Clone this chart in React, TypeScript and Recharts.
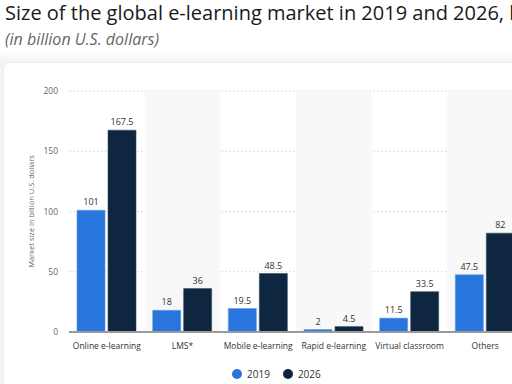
import React from "react";
import {
  BarChart,
  Bar,
  XAxis,
  YAxis,
  CartesianGrid,
  LabelList,
  ReferenceArea,
} from "recharts";

const categories = [
  "Online e-learning",
  "LMS*",
  "Mobile e-learning",
  "Rapid e-learning",
  "Virtual classroom",
  "Others",
];
const values2019 = [101, 18, 19.5, 2, 11.5, 47.5];
const values2026 = [167.5, 36, 48.5, 4.5, 33.5, 82];
const yTicks = [0, 50, 100, 150, 200];
const shadedCategories = ["LMS*", "Rapid e-learning", "Others"];

const data = categories.map((c, i) => ({
  name: c,
  y2019: values2019[i],
  y2026: values2026[i],
}));

const FONT = "'Open Sans', 'Noto Sans', sans-serif";
const BLUE = "#2876dd";
const NAVY = "#0f2640";

const YLabel = (props: any) => {
  const vb = props.viewBox || { x: 0, y: 0, width: 0, height: 0 };
  const x = 34;
  const y = vb.y + vb.height / 2;
  return (
    <text
      x={x}
      y={y}
      transform={`rotate(-90, ${x}, ${y})`}
      textAnchor="middle"
      fontSize={7.5}
      fill="#666"
      fontFamily={FONT}
    >
      Market size in billion U.S. dollars
    </text>
  );
};

export default function App() {
  return (
    <div
      style={{
        position: "fixed",
        left: 0,
        top: 0,
        width: 512,
        height: 384,
        overflow: "hidden",
        background:
          "linear-gradient(to bottom, #ffffff 0px, #ffffff 50px, #f3f4f7 62px, #f3f4f7 384px)",
        fontFamily: FONT,
      }}
    >
      <div
        style={{
          position: "absolute",
          left: 5,
          top: -1,
          fontSize: 20,
          color: "#1a1a1a",
          whiteSpace: "nowrap",
        }}
      >
        Size of the global e-learning market in 2019 and 2026, by segment
      </div>
      <div
        style={{
          position: "absolute",
          left: 5,
          top: 28,
          fontSize: 16,
          fontStyle: "italic",
          color: "#666",
          whiteSpace: "nowrap",
        }}
      >
        (in billion U.S. dollars)
      </div>
      <div
        style={{
          position: "absolute",
          left: 4,
          top: 63,
          width: 560,
          height: 360,
          background: "#ffffff",
          borderRadius: 6,
          boxShadow: "0 0 4px rgba(0,0,0,0.06)",
        }}
      />
      <div style={{ position: "absolute", left: 0, top: 0 }}>
        <BarChart
          width={540}
          height={384}
          data={data}
          margin={{ top: 91, right: 17, left: 0, bottom: 22 }}
          barCategoryGap={8}
          barGap={3}
        >
          <CartesianGrid
            vertical={false}
            strokeDasharray="2 2"
            stroke="#dcdcdc"
          />
          {shadedCategories.map((c) => (
            <ReferenceArea
              key={c}
              x1={c}
              x2={c}
              y1={0}
              y2={200}
              fill="#f8f8f8"
              fillOpacity={1}
              stroke="none"
            />
          ))}
          <XAxis
            dataKey="name"
            height={30}
            axisLine={{ stroke: "#9a9a9a", strokeWidth: 2 }}
            tickLine={false}
            tick={{ fontSize: 8.5, fill: "#333", fontFamily: FONT }}
            tickMargin={5}
            interval={0}
          />
          <YAxis
            width={69}
            domain={[0, 200]}
            ticks={yTicks}
            axisLine={false}
            tickLine={false}
            tickSize={0}
            tickMargin={11}
            tick={{ fontSize: 8.5, fill: "#666", fontFamily: FONT }}
            label={<YLabel />}
          />
          <Bar
            dataKey="y2019"
            fill={BLUE}
            stroke="#5d9be8"
            strokeWidth={0.6}
            isAnimationActive={false}
          >
            <LabelList
              dataKey="y2019"
              position="top"
              offset={5}
              fontSize={9}
              fill="#333"
              fontFamily={FONT}
            />
          </Bar>
          <Bar
            dataKey="y2026"
            fill={NAVY}
            stroke="#3a4d63"
            strokeWidth={0.6}
            isAnimationActive={false}
          >
            <LabelList
              dataKey="y2026"
              position="top"
              offset={5}
              fontSize={9}
              fill="#333"
              fontFamily={FONT}
            />
          </Bar>
        </BarChart>
      </div>
      <div
        style={{
          position: "absolute",
          left: 232,
          top: 367,
          display: "flex",
          alignItems: "center",
          fontSize: 10,
          color: "#333",
          whiteSpace: "nowrap",
        }}
      >
        <span
          style={{
            display: "inline-block",
            width: 10,
            height: 10,
            borderRadius: 5,
            background: BLUE,
            marginRight: 5,
          }}
        />
        <span style={{ marginRight: 13 }}>2019</span>
        <span
          style={{
            display: "inline-block",
            width: 10,
            height: 10,
            borderRadius: 5,
            background: NAVY,
            marginRight: 5,
          }}
        />
        <span>2026</span>
      </div>
    </div>
  );
}
